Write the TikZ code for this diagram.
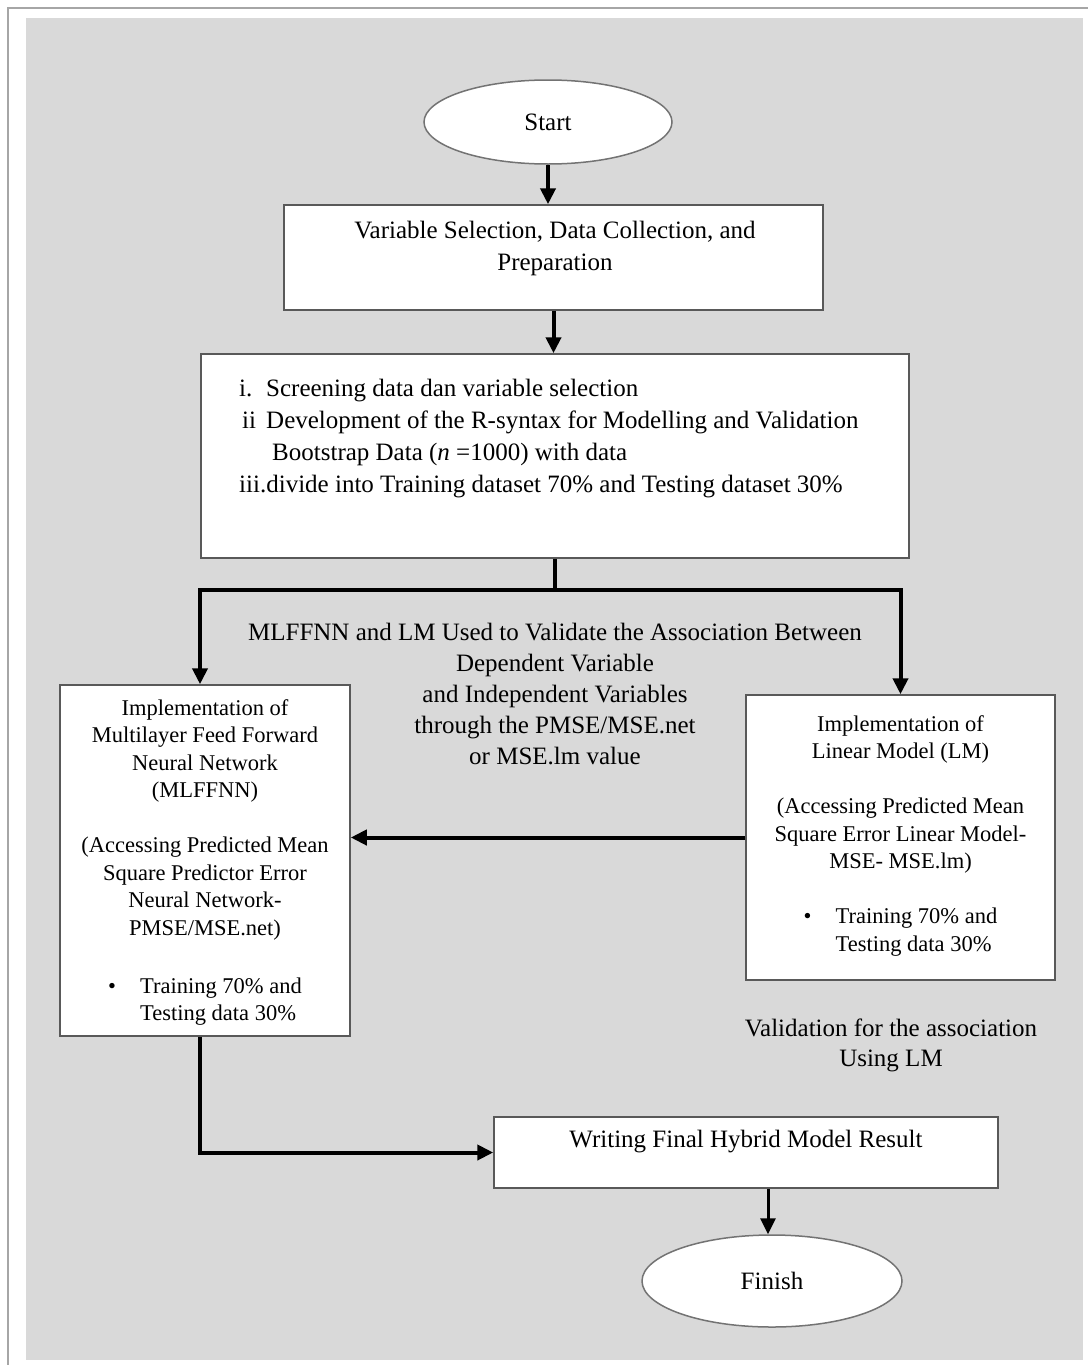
\documentclass[tikz,border=0pt]{standalone}
\usepackage{fontspec}
\setmainfont{Liberation Serif}
\usetikzlibrary{shapes.geometric, arrows.meta}

\begin{document}
\begin{tikzpicture}[x=1pt, y=-1pt,
    box/.style={draw=black!65, line width=1.5pt, fill=white, inner sep=0pt},
    oval/.style={ellipse, draw=black!55, line width=1.5pt, fill=white, inner sep=0pt},
    txt/.style={font=\fontsize{25}{32}\selectfont, inner sep=0pt, align=center},
    small/.style={font=\fontsize{22.5}{27.5}\selectfont, align=center},
    flow/.style={line width=4pt, -{Triangle[width=15pt,length=16pt]}},
    link/.style={line width=4pt}]
    \useasboundingbox (0,0) rectangle (1088,1365);
    \fill[gray!30] (26,18) rectangle (1083,1360);
    \draw[gray!70, line width=2pt] (8,1365) -- (8,8) -- (1088,8);

    \node[oval, txt, minimum width=248pt, minimum height=84pt] (start) at (548,122) {Start};

    \node[box, minimum width=539pt, minimum height=105pt] (varsel) at (553.5,257.5) {};
    \node[txt] (varseltxt) at (555,248) {Variable Selection, Data Collection, and\\Preparation};

    \node[box, minimum width=708pt, minimum height=204pt] (prep) at (555,456) {};
    \node[txt, align=left, anchor=west] (preptxt) at (239,438.5) {%
        \makebox[27pt][l]{i.}Screening data dan variable selection\\
        \makebox[27pt][l]{\hspace*{3pt}ii}Development of the R-syntax for Modelling and Validation\\
        \hspace*{33pt}Bootstrap Data (\textit{n} =1000) with data\\
        iii.divide into Training dataset 70\% and Testing dataset 30\%};

    \node[txt, font=\fontsize{25}{31}\selectfont] (valtxt) at (555,693.5) {MLFFNN and LM Used to Validate the Association Between\\
        Dependent Variable\\and Independent Variables\\through the PMSE/MSE.net\\or MSE.lm value};

    \node[box, minimum width=290pt, minimum height=351pt] (mlffnn) at (205,860.5) {};
    \node[small, inner sep=0pt] (mlffnntxt) at (205,864) {Implementation of\\
        Multilayer Feed Forward\\Neural Network\\(MLFFNN)\\[27.5pt]
        (Accessing Predicted Mean\\Square Predictor Error\\Neural Network-\\PMSE/MSE.net)\\[30.5pt]
        \begin{tabular}[t]{@{}l@{\hspace{24pt}}l@{}}\textbullet & Training 70\% and\\ & Testing data 30\%\end{tabular}};

    \node[box, small, minimum width=309pt, minimum height=285pt] (lm) at (900.5,837.5) {Implementation of\\
        Linear Model (LM)\\[27.5pt]
        (Accessing Predicted Mean\\Square Error Linear Model-\\MSE- MSE.lm)\\[27.5pt]
        \begin{tabular}[t]{@{}l@{\hspace{24pt}}l@{}}\textbullet & Training 70\% and\\ & Testing data 30\%\end{tabular}};

    \node[txt, font=\fontsize{25}{30}\selectfont] (lmnote) at (891,1045) {Validation for the association\\Using LM};

    \node[box, minimum width=504pt, minimum height=71pt] (final) at (746,1152.5) {};
    \node[txt] (finaltxt) at (746,1142) {Writing Final Hybrid Model Result};

    \node[oval, txt, minimum width=260pt, minimum height=92pt] (finish) at (772,1281) {Finish};

    \draw[flow] (start.south) -- (start.south |- varsel.north);
    \draw[flow] (varsel.south) -- (varsel.south |- prep.north);
    \draw[link] (prep.south) -- ++(0,31) coordinate (split);
    \draw[flow] (split) -| ([xshift=-5pt]mlffnn.north);
    \draw[flow] (split) -| (lm.north);
    \draw[flow] (lm.west) -- (lm.west -| mlffnn.east);
    \draw[flow] ([xshift=-5pt]mlffnn.south) |- (final.west);
    \draw[flow, line width=3pt] ([xshift=-4pt]finish.north |- final.south) -- ([xshift=-4pt]finish.north);
\end{tikzpicture}
\end{document}
